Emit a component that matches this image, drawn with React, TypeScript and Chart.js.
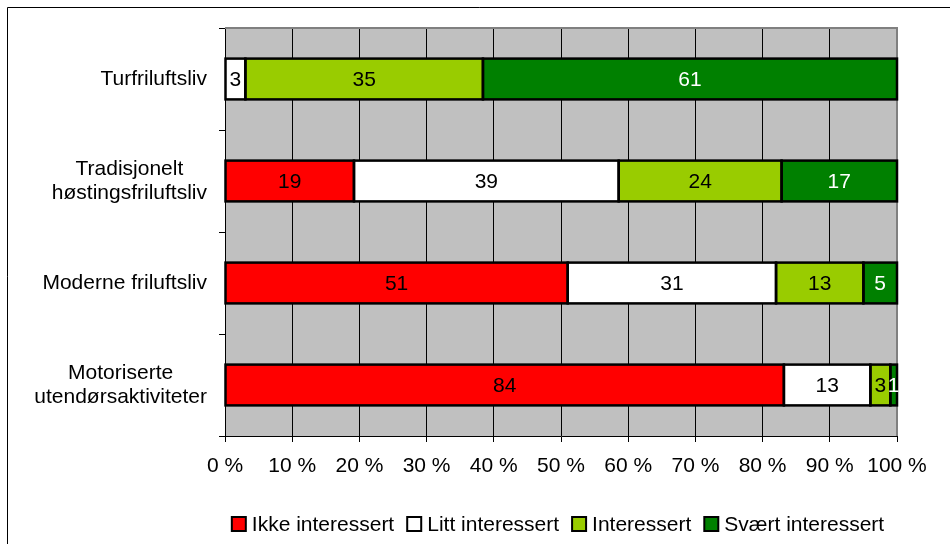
import React, { useEffect, useRef } from "react";
import { Chart, registerables } from "chart.js";

Chart.register(...registerables);

const categories: string[][] = [
  ["Turfriluftsliv"],
  ["Tradisjonelt", "høstingsfriluftsliv"],
  ["Moderne friluftsliv"],
  ["Motoriserte", "utendørsaktiviteter"],
];
const seriesNames = ["Ikke interessert", "Litt interessert", "Interessert", "Svært interessert"];
const ikkeInteressert = [0, 19, 51, 84];
const littInteressert = [3, 39, 31, 13];
const interessert = [35, 24, 13, 3];
const svaertInteressert = [61, 17, 5, 1];
const seriesColors = ["#FF0000", "#FFFFFF", "#99CC00", "#008000"];
const labelColors = ["#000000", "#000000", "#000000", "#FFFFFF"];
const xTickValues = [0, 10, 20, 30, 40, 50, 60, 70, 80, 90, 100];

const FONT = '"Liberation Sans", Arial, Helvetica, sans-serif';

export default function App() {
  const ref = useRef<HTMLCanvasElement | null>(null);

  useEffect(() => {
    const canvas = ref.current;
    if (!canvas) return;
    const raw = [ikkeInteressert, littInteressert, interessert, svaertInteressert];
    const totals = categories.map((_, i) => raw.reduce((s, arr) => s + arr[i], 0));
    const shares = raw.map((arr) => arr.map((v, i) => (v / totals[i]) * 100));

    const decor = {
      id: "decor",
      beforeDraw(chart: any) {
        const { ctx, chartArea: a } = chart;
        ctx.save();
        ctx.fillStyle = "#FFFFFF";
        ctx.fillRect(0, 0, chart.width, chart.height);
        ctx.strokeStyle = "#000000";
        ctx.lineWidth = 1;
        ctx.beginPath();
        ctx.moveTo(7.5, chart.height + 5);
        ctx.lineTo(7.5, 7.5);
        ctx.lineTo(chart.width + 5, 7.5);
        ctx.stroke();
        ctx.fillStyle = "#C0C0C0";
        ctx.fillRect(a.left, a.top, a.right - a.left, a.bottom - a.top);
        ctx.restore();
      },
      beforeDatasetsDraw(chart: any) {
        const { ctx, chartArea: a } = chart;
        ctx.save();
        ctx.strokeStyle = "#808080";
        ctx.lineWidth = 2;
        ctx.beginPath();
        ctx.moveTo(a.left, a.top);
        ctx.lineTo(a.right, a.top);
        ctx.lineTo(a.right, a.bottom);
        ctx.stroke();
        ctx.restore();
      },
      afterDatasetsDraw(chart: any) {
        const { ctx } = chart;
        ctx.save();
        chart.data.datasets.forEach((ds: any, di: number) => {
          const meta = chart.getDatasetMeta(di);
          meta.data.forEach((el: any, i: number) => {
            if (raw[di][i] <= 0) return;
            const p = el.getProps(["x", "y", "base", "height"], true);
            const l = Math.min(p.base, p.x);
            const w = Math.abs(p.x - p.base);
            ctx.strokeStyle = "#000000";
            ctx.lineWidth = 2.5;
            ctx.strokeRect(l, p.y - p.height / 2, w, p.height);
          });
        });
        chart.data.datasets.forEach((ds: any, di: number) => {
          const meta = chart.getDatasetMeta(di);
          meta.data.forEach((el: any, i: number) => {
            if (raw[di][i] <= 0) return;
            const p = el.getProps(["x", "y", "base"], true);
            ctx.fillStyle = labelColors[di];
            ctx.font = `21px ${FONT}`;
            ctx.textAlign = "center";
            ctx.textBaseline = "middle";
            ctx.fillText(String(raw[di][i]), (p.x + p.base) / 2, p.y + 1);
          });
        });
        ctx.restore();
      },
      afterDraw(chart: any) {
        const { ctx } = chart;
        const yScale = chart.scales.y;
        ctx.save();
        ctx.font = `21px ${FONT}`;
        ctx.fillStyle = "#000000";
        ctx.textBaseline = "middle";
        ctx.textAlign = "center";
        const rightEdge = 207;
        const lineH = 24;
        categories.forEach((lines, i) => {
          const cy = yScale.getPixelForValue(i);
          const widest = Math.max(...lines.map((t) => ctx.measureText(t).width));
          const cx = rightEdge - widest / 2;
          const y0 = cy - ((lines.length - 1) * lineH) / 2;
          lines.forEach((t, k) => ctx.fillText(t, cx, y0 + k * lineH));
        });
        // legend
        const box = 14;
        const gapBox = 6;
        const gapItem = 13;
        const widths = seriesNames.map((n) => ctx.measureText(n).width);
        const total = widths.reduce((s, w) => s + w + box + gapBox, 0) + gapItem * (seriesNames.length - 1);
        let x = 558 - total / 2;
        const ly = 524;
        ctx.textAlign = "left";
        seriesNames.forEach((n, i) => {
          ctx.fillStyle = seriesColors[i];
          ctx.fillRect(x, ly - box / 2, box, box);
          ctx.strokeStyle = "#000000";
          ctx.lineWidth = 2;
          ctx.strokeRect(x, ly - box / 2, box, box);
          ctx.fillStyle = "#000000";
          ctx.fillText(n, x + box + gapBox, ly + 1);
          x += box + gapBox + widths[i] + gapItem;
        });
        ctx.restore();
      },
    };

    const chart = new Chart(canvas, {
      type: "bar",
      data: {
        labels: categories.map((c) => c.join(" ")),
        datasets: seriesNames.map((name, di) => ({
          label: name,
          data: shares[di],
          backgroundColor: seriesColors[di],
          borderWidth: 0,
          barPercentage: 0.4,
          categoryPercentage: 1,
        })),
      },
      options: {
        indexAxis: "y",
        responsive: false,
        animation: false,
        devicePixelRatio: 1,
        layout: { padding: { left: 0, top: 28, right: 53, bottom: 48 } },
        plugins: { legend: { display: false }, tooltip: { enabled: false } },
        scales: {
          x: {
            stacked: true,
            min: 0,
            max: 100,
            afterBuildTicks(scale: any) {
              scale.ticks = xTickValues.map((v) => ({ value: v }));
            },
            afterFit(scale: any) {
              scale.height = 60;
            },
            ticks: {
              color: "#000000",
              font: { size: 21, family: FONT },
              padding: 12,
              maxRotation: 0,
              autoSkip: false,
              callback: (v: any) => `${v} %`,
            },
            grid: { color: "#000000", lineWidth: 1, tickLength: 6, drawTicks: true },
            border: { display: true, color: "#000000", width: 1 },
          },
          y: {
            stacked: true,
            offset: true,
            afterFit(scale: any) {
              scale.width = 225;
            },
            ticks: { display: false },
            grid: { offset: true, drawOnChartArea: false, drawTicks: true, tickLength: 6, color: "#000000" },
            border: { display: true, color: "#000000", width: 1 },
          },
        },
      },
      plugins: [decor],
    } as any);
    return () => chart.destroy();
  }, []);

  return (
    <div style={{ position: "absolute", left: 0, top: 0, width: 950, height: 544, background: "#fff" }}>
      <canvas ref={ref} width={950} height={544} style={{ display: "block" }} />
    </div>
  );
}
